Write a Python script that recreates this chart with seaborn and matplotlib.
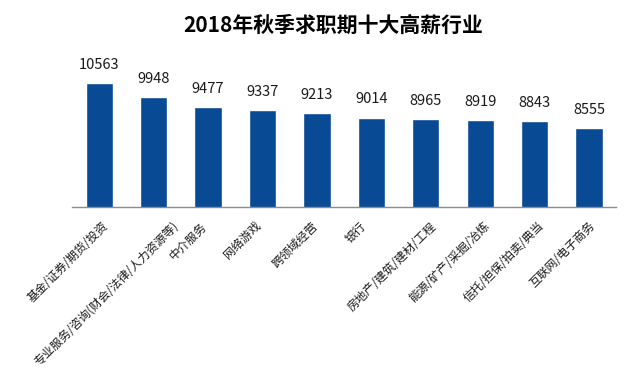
import numpy as np
import matplotlib
matplotlib.use('Agg')
import matplotlib.pyplot as plt
import matplotlib.transforms as mtrans
import pandas as pd
import seaborn as sns

industries = ['基金/证券/期货/投资', '专业服务/咨询(财会/法律/人力资源等)', '中介服务', '网络游戏',
              '跨领域经营', '银行', '房地产/建筑/建材/工程', '能源/矿产/采掘/冶炼',
              '信托/担保/拍卖/典当', '互联网/电子商务']
salary = [10563, 9948, 9477, 9337, 9213, 9014, 8965, 8919, 8843, 8555]

sns.set_theme(style='white')
plt.rcParams['font.family'] = ['Noto Sans CJK SC', 'DejaVu Sans']

df = pd.DataFrame({'industry': industries, 'salary': salary})

fig = plt.figure(figsize=(6.32, 3.84), dpi=100)
ax = fig.add_axes([0.114, 0.461, 0.861, 0.406])
sns.barplot(data=df, x='industry', y='salary', color='#094A95', width=0.5,
            saturation=1, ax=ax)

ax.set_ylim(5000, 12000)
ax.set_xlim(-0.5, len(industries) - 0.5)
ax.set_xlabel('')
ax.set_ylabel('')
ax.set_yticks([])
for s in ['top', 'right', 'left']:
    ax.spines[s].set_visible(False)
ax.spines['bottom'].set_color('#8c8c8c')
ax.spines['bottom'].set_linewidth(1.0)

# boundary ticks between categories
ax.set_xticks(np.arange(-0.5, len(industries), 1.0), minor=True)
ax.tick_params(axis='x', which='minor', length=5, width=1, color='#8c8c8c', direction='out')
ax.tick_params(axis='x', which='major', length=0, pad=9)
ax.set_xticks(range(len(industries)))
ax.set_xticklabels(industries, rotation=45, ha='right', va='top',
                   rotation_mode='anchor', fontsize=8.5, color='#1a1a1a')

# longer labels sit a little further right, like the office-style layout
fig.canvas.draw()
renderer = fig.canvas.get_renderer()
for lab in ax.get_xticklabels():
    w = lab.get_window_extent(renderer).width
    shift = 0.24 * w - 18
    lab.set_transform(lab.get_transform() +
                      mtrans.ScaledTranslation(shift / 100, 0, fig.dpi_scale_trans))

for i, v in enumerate(salary):
    ax.annotate(str(v), (i, v), xytext=(0, 8), textcoords='offset points',
                ha='center', va='bottom', fontsize=10.5, color='#1a1a1a')

fig.text(0.528, 0.935, '2018年秋季求职期十大高薪行业', ha='center', va='center',
         fontsize=15, fontweight='bold', color='black')

fig.savefig('out.png', dpi=100)
